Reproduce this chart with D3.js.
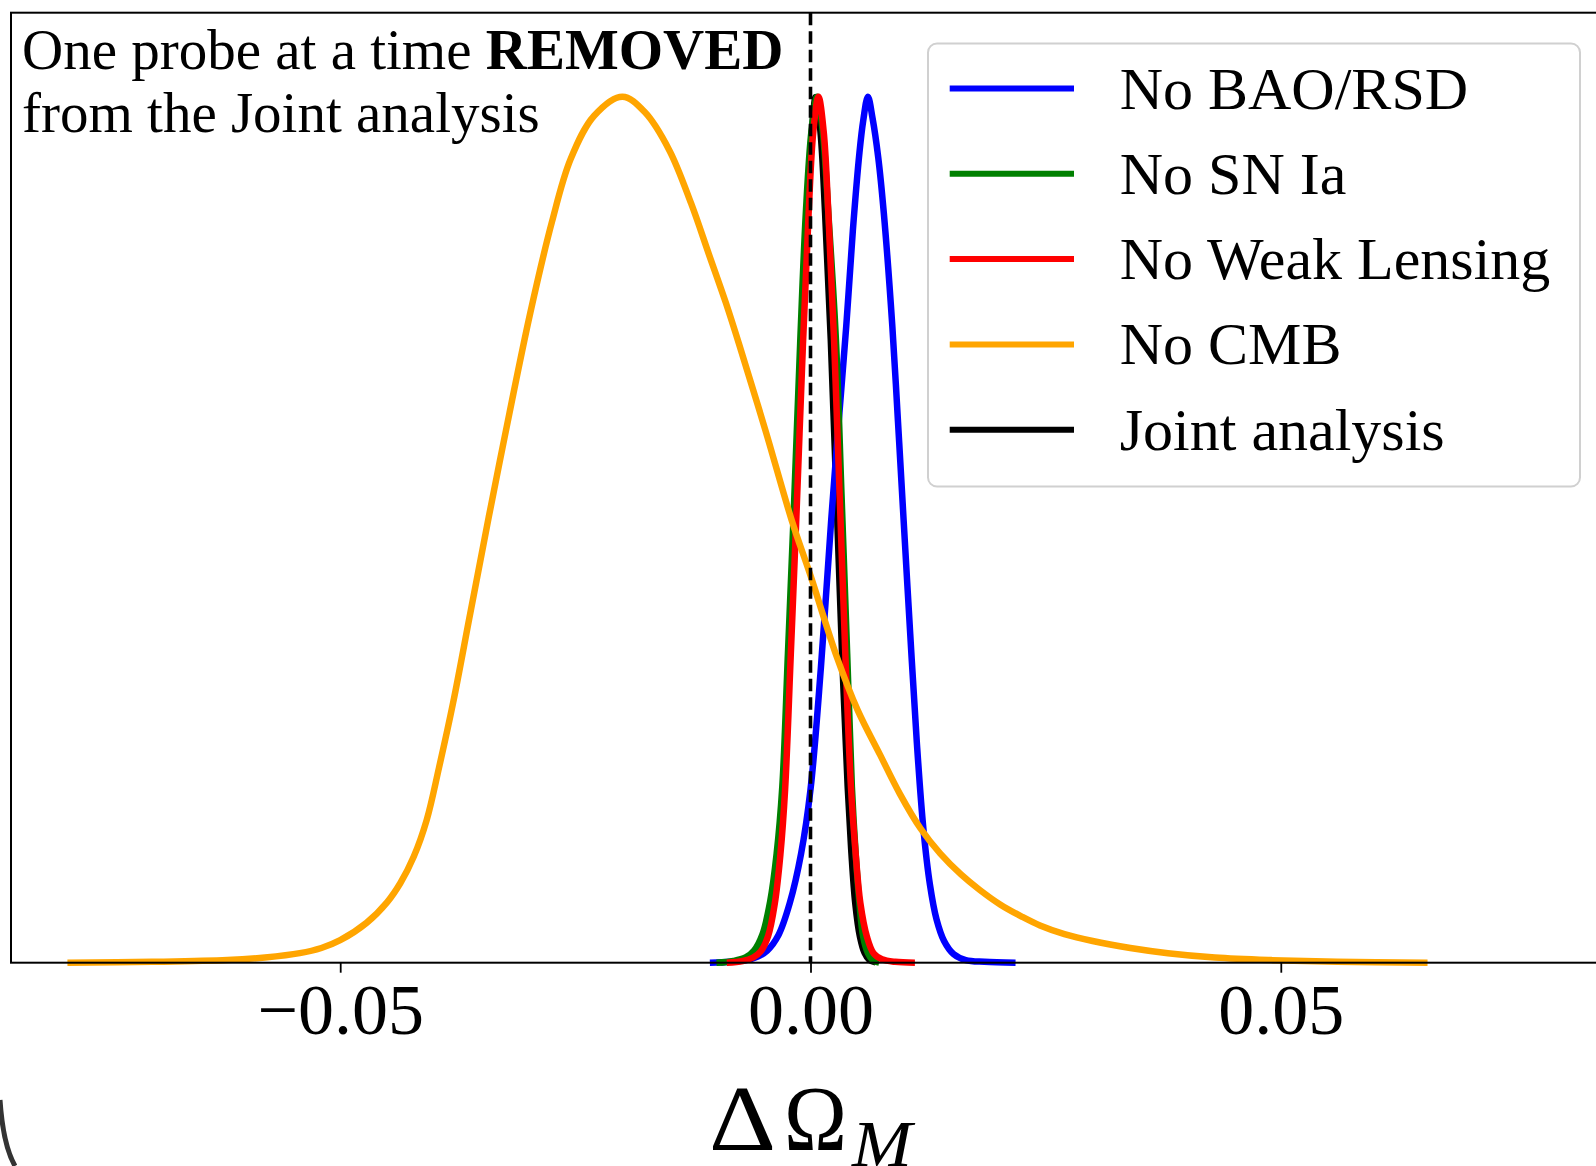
<!DOCTYPE html>
<html>
<head>
<meta charset="utf-8">
<script src="https://cdn.jsdelivr.net/npm/d3@7"></script>
<style>
  html, body { margin: 0; padding: 0; background: #fff; overflow: hidden; }
  svg { display: block; font-family: "Liberation Serif", "Times New Roman", serif; }
</style>
</head>
<body>
<svg id="chart" width="1596" height="1166"></svg>
<script>
// Tick values along the x axis
const deltaTicks = [-0.05, 0, 0.05];
// Legend labels, in legend order
const seriesNames = ["No BAO/RSD", "No SN Ia", "No Weak Lensing", "No CMB", "Joint analysis"];
// Normalised posteriors, [ΔΩ_M, density]
const noBaoRsd = [
  [-0.0107, 0], [-0.0085, 0.001], [-0.0068, 0.003], [-0.0056, 0.007], [-0.0046, 0.014],
  [-0.0034, 0.032], [-0.0022, 0.069], [-0.0010, 0.126], [0.0000, 0.200], [0.0011, 0.340],
  [0.0022, 0.511], [0.0030, 0.625], [0.0038, 0.735], [0.0045, 0.845], [0.0052, 0.935],
  [0.0056, 0.972], [0.0061, 1.0], [0.0066, 0.975], [0.0072, 0.930], [0.0078, 0.865],
  [0.0087, 0.735], [0.0093, 0.625], [0.0099, 0.511], [0.0106, 0.380], [0.0113, 0.255],
  [0.0120, 0.155], [0.0127, 0.090], [0.0134, 0.050], [0.0142, 0.025], [0.0152, 0.010],
  [0.0165, 0.003], [0.0185, 0.001], [0.0218, 0]
];
const noSnIa = [
  [-0.0100, 0], [-0.0082, 0.002], [-0.0069, 0.006], [-0.0060, 0.014], [-0.0051, 0.033],
  [-0.0043, 0.070], [-0.0036, 0.126], [-0.0030, 0.203], [-0.0024, 0.357], [-0.0018, 0.515],
  [-0.0011, 0.715], [-0.0005, 0.865], [0.0001, 0.960], [0.0007, 1.0], [0.0013, 0.960],
  [0.0019, 0.865], [0.0027, 0.720], [0.0033, 0.540], [0.0039, 0.357], [0.0044, 0.203],
  [0.0048, 0.126], [0.0052, 0.069], [0.0056, 0.030], [0.0061, 0.011], [0.0066, 0.003],
  [0.0073, 0]
];
const noWeakLensing = [
  [-0.0089, 0], [-0.0072, 0.002], [-0.0061, 0.006], [-0.0053, 0.013], [-0.0045, 0.031],
  [-0.0038, 0.068], [-0.0032, 0.125], [-0.0027, 0.200], [-0.0021, 0.355], [-0.0015, 0.515],
  [-0.0008, 0.715], [-0.0002, 0.865], [0.0003, 0.960], [0.00085, 1.0], [0.0014, 0.960],
  [0.0019, 0.865], [0.0025, 0.720], [0.0031, 0.540], [0.0037, 0.357], [0.0043, 0.203],
  [0.0048, 0.126], [0.0053, 0.069], [0.0060, 0.030], [0.0067, 0.011], [0.0076, 0.004],
  [0.0090, 0.001], [0.0111, 0]
];
const noCmb = [
  [-0.0790, 0], [-0.0700, 0.001], [-0.0620, 0.003], [-0.0580, 0.006], [-0.0543, 0.011],
  [-0.0520, 0.017], [-0.0500, 0.026], [-0.0472, 0.046], [-0.0450, 0.070], [-0.0436, 0.092],
  [-0.0422, 0.122], [-0.0408, 0.165], [-0.0395, 0.225], [-0.0380, 0.300], [-0.0362, 0.402],
  [-0.0342, 0.515], [-0.0320, 0.635], [-0.0298, 0.750], [-0.0275, 0.855], [-0.0255, 0.928],
  [-0.0230, 0.978], [-0.0200, 1.0], [-0.0176, 0.982], [-0.0150, 0.938], [-0.0127, 0.877],
  [-0.0108, 0.818], [-0.0090, 0.762], [-0.0075, 0.711], [-0.0048, 0.615], [-0.0020, 0.511],
  [0.0000, 0.447], [0.0028, 0.353], [0.0050, 0.292], [0.0074, 0.240], [0.0095, 0.195],
  [0.0117, 0.155], [0.0138, 0.126], [0.0160, 0.102], [0.0180, 0.084], [0.0202, 0.067],
  [0.0225, 0.053], [0.0244, 0.043], [0.0270, 0.033], [0.0300, 0.025], [0.0340, 0.017],
  [0.0380, 0.011], [0.0430, 0.006], [0.0490, 0.003], [0.0560, 0.001], [0.0656, 0]
];
const jointAnalysis = [
  [-0.0095, 0], [-0.0080, 0.002], [-0.0068, 0.006], [-0.0059, 0.014], [-0.0050, 0.033],
  [-0.0042, 0.070], [-0.0035, 0.126], [-0.0029, 0.203], [-0.0023, 0.357], [-0.0017, 0.515],
  [-0.0010, 0.715], [-0.0004, 0.865], [0.0001, 0.960], [0.0005, 1.0], [0.0010, 0.960],
  [0.0015, 0.865], [0.0021, 0.720], [0.0027, 0.540], [0.0033, 0.357], [0.0039, 0.203],
  [0.0043, 0.126], [0.0047, 0.069], [0.0052, 0.030], [0.0057, 0.011], [0.0062, 0.003],
  [0.0069, 0]
];

// Colours by legend order
const colors = ["#0000ff", "#008000", "#ff0000", "#ffa500", "#000000"];
const series = [noBaoRsd, noSnIa, noWeakLensing, noCmb, jointAnalysis].map((values, i) => ({
  name: seriesNames[i], color: colors[i], values
}));

const svg = d3.select("#chart");
// Plot frame (the right spine falls outside the picture)
const frame = { left: 11, top: 12.7, right: 1610, bottom: 962.7 };

const x = d3.scaleLinear().domain([-0.085, 0.085]).range([frame.left, frame.right]);
const y = d3.scaleLinear().domain([0, 1.097]).range([frame.bottom, frame.top]);

const line = d3.line().x(d => x(d[0])).y(d => y(d[1])).curve(d3.curveCatmullRom.alpha(0.5));

// Curves: joint analysis underneath, then the others in legend order
const drawOrder = [4, 0, 1, 2, 3];
svg.append("g").attr("class", "curves")
  .selectAll("path")
  .data(drawOrder.map(i => series[i]))
  .join("path")
    .attr("d", d => line(d.values))
    .attr("fill", "none")
    .attr("stroke", d => d.color)
    .attr("stroke-width", d => d.name === "Joint analysis" ? 5.5 : 6.5)
    .attr("stroke-linejoin", "round");

// Reference dashed line at zero
svg.append("line")
  .attr("x1", x(0)).attr("x2", x(0))
  .attr("y1", frame.top).attr("y2", frame.bottom)
  .attr("stroke", "#000").attr("stroke-width", 3.6)
  .attr("stroke-dasharray", "12.5,6");

// Frame spines
svg.append("rect")
  .attr("x", frame.left).attr("y", frame.top)
  .attr("width", frame.right - frame.left).attr("height", frame.bottom - frame.top)
  .attr("fill", "none").attr("stroke", "#000").attr("stroke-width", 2);

// Bottom axis with ticks
const xAxis = svg.append("g")
  .attr("transform", `translate(0, ${frame.bottom})`)
  .call(d3.axisBottom(x).tickValues(deltaTicks).tickSize(10).tickSizeOuter(0)
    .tickFormat(d => (d < 0 ? "\u2212" : "") + d3.format(".2f")(Math.abs(d))));
xAxis.select(".domain").remove();
xAxis.selectAll(".tick line").attr("stroke", "#000").attr("stroke-width", 1.8);
xAxis.selectAll(".tick text")
  .attr("y", 71).attr("dy", 0)
  .attr("fill", "#000")
  .style("font-family", "'Liberation Serif', 'Times New Roman', serif")
  .style("font-size", "72px");

// Axis label ΔΩ_M; each glyph stretched to the width of the math font
const labelParts = [
  { t: "Δ", x: 709, y: 1150, w: 67, size: 94, style: "normal" },
  { t: "Ω", x: 784, y: 1150, w: 63, size: 94, style: "normal" },
  { t: "M", x: 852, y: 1166, w: 60, size: 66, style: "italic" }
];
svg.append("g").attr("class", "x-label")
  .selectAll("text")
  .data(labelParts)
  .join("text")
    .attr("x", d => d.x).attr("y", d => d.y)
    .attr("textLength", d => d.w).attr("lengthAdjust", "spacingAndGlyphs")
    .style("font-size", d => `${d.size}px`).style("font-style", d => d.style)
    .attr("fill", "#000")
    .text(d => d.t);

// Annotation in the upper left
const note = svg.append("text").attr("x", 22).style("font-size", "57px").attr("fill", "#000");
const l1 = note.append("tspan").attr("x", 22).attr("y", 68.5);
l1.append("tspan").text("One probe at a time ");
l1.append("tspan").text("REMOVED").style("font-weight", "bold");
note.append("tspan").attr("x", 22).attr("y", 132).text("from the Joint analysis");

// Legend
const legend = svg.append("g").attr("transform", "translate(928, 43.5)");
legend.append("rect")
  .attr("width", 652).attr("height", 443).attr("rx", 9)
  .attr("fill", "#fff").attr("fill-opacity", 0.8)
  .attr("stroke", "#d0d0d0").attr("stroke-width", 2);
const rows = legend.selectAll("g.row")
  .data(series)
  .join("g")
    .attr("class", "row")
    .attr("transform", (d, i) => `translate(0, ${45 + i * 85.3})`);
rows.append("line")
  .attr("x1", 21.7).attr("x2", 146)
  .attr("stroke", d => d.color).attr("stroke-width", 6);
rows.append("text")
  .attr("x", 191.7).attr("y", 20)
  .style("font-size", "60px").attr("fill", "#000")
  .text(d => d.name);

// Dark rounded window corner at the bottom left
svg.append("path")
  .attr("d", "M0,1100 Q3,1145 15,1166")
  .attr("fill", "none").attr("stroke", "#333").attr("stroke-width", 5);
</script>
</body>
</html>
